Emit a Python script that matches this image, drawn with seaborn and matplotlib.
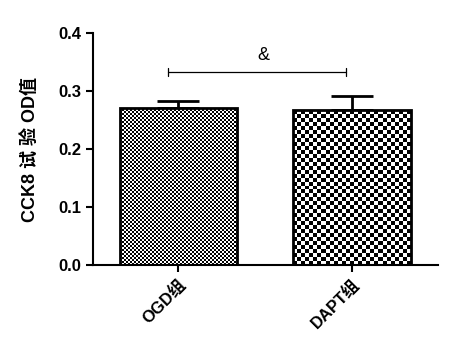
import numpy as np
import pandas as pd
import matplotlib
matplotlib.use("Agg")
import matplotlib.pyplot as plt
import seaborn as sns

groups = ["OGD组", "DAPT组"]
means = [0.271, 0.267]
errs = [0.012, 0.024]
ylabel = "CCK8 试 验 OD值"
yticks = [0.0, 0.1, 0.2, 0.3, 0.4]
sig_text = "&"
sig_y = 0.333
sig_x = [-0.06, 0.97]

sns.set_style("ticks")
plt.rcParams['font.family'] = ['Liberation Sans', 'Noto Sans CJK SC', 'DejaVu Sans']
plt.rcParams['text.color'] = 'black'
plt.rcParams['axes.labelcolor'] = 'black'
plt.rcParams['xtick.color'] = 'black'
plt.rcParams['ytick.color'] = 'black'
plt.rcParams['axes.edgecolor'] = 'black'

fig = plt.figure(figsize=(4.49, 3.48), dpi=100)
ax = fig.add_axes([0.207, 0.2385, 0.769, 0.6665])

df = pd.DataFrame({"group": groups, "value": means})
sns.barplot(data=df, x="group", y="value", ax=ax, color="white", width=0.68,
            edgecolor="black", linewidth=2.0, errorbar=None, zorder=2)

ax.set_xlim(-0.494, 1.5)
ax.set_ylim(0, 0.4)
fig.canvas.draw()

cell_px = [2, 4]
for i, p in enumerate(ax.patches):
    p.set_facecolor("none")
    x0, y0 = p.get_x(), p.get_y()
    w, h = p.get_width(), p.get_height()
    bb = p.get_window_extent(renderer=fig.canvas.get_renderer())
    nx = max(1, int(round(bb.width / cell_px[i])))
    ny = max(1, int(round(bb.height / cell_px[i])))
    board = (np.indices((ny, nx)).sum(axis=0) % 2).astype(float)
    im = ax.imshow(board, cmap="gray", extent=(x0, x0 + w, y0, y0 + h),
                   origin="lower", aspect="auto", interpolation="nearest",
                   zorder=1.5, vmin=0, vmax=1)
    im.set_clip_path(p)

ax.errorbar(range(len(groups)), means, yerr=[[0] * len(groups), errs], fmt="none",
            ecolor="black", elinewidth=2, capsize=15, capthick=2, zorder=1)

# significance bracket
ax.plot(sig_x, [sig_y, sig_y], color="black", lw=0.9)
for xx in sig_x:
    ax.plot([xx, xx], [sig_y - 0.007, sig_y + 0.007], color="black", lw=0.9)
ax.text(sum(sig_x) / 2 + 0.035, sig_y + 0.013, sig_text, ha="center", va="bottom",
        fontsize=13, color="black")

ax.set_xlim(-0.494, 1.5)
ax.set_ylim(0, 0.4)
ax.set_yticks(yticks)
ax.set_yticklabels([f"{t:.1f}" for t in yticks], fontsize=12, fontweight="bold")
ax.set_xticks(range(len(groups)))
ax.set_xticklabels(groups, rotation=45, ha="right", rotation_mode="anchor",
                   fontsize=12, fontweight="bold")
ax.set_xlabel("")
ax.set_ylabel(ylabel, fontsize=13, fontweight="bold", labelpad=14, color="black")
for s in ["top", "right"]:
    ax.spines[s].set_visible(False)
for s in ["left", "bottom"]:
    ax.spines[s].set_linewidth(1.5)
    ax.spines[s].set_color("black")
ax.tick_params(axis="both", direction="out", length=5, width=1.5, colors="black")

fig.savefig("out.png", dpi=100)
